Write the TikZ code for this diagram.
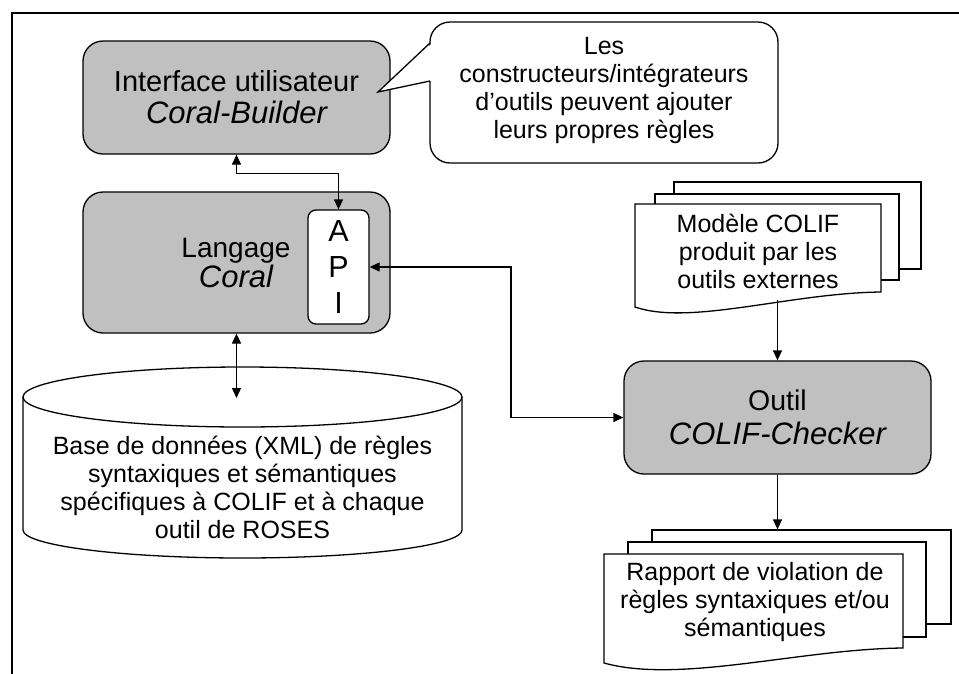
\documentclass[tikz,border=0pt]{standalone}
\usepackage{fontspec}
\setmainfont{Liberation Sans}
\usetikzlibrary{arrows.meta}
\definecolor{boxgrey}{HTML}{C0C0C0}
\tikzset{
  ln/.style={line width=1.3pt, draw=black},
  greybox/.style={ln, fill=boxgrey, rounded corners=20pt, minimum width=307pt, minimum height=113pt, align=center, inner sep=0pt},
  apibox/.style={ln, fill=white, rounded corners=8pt, minimum width=61pt, minimum height=114pt, align=center, inner sep=0pt, font=\fontsize{30.5}{36}\selectfont},
  txt/.style={align=center, inner sep=0pt, font=\fontsize{25}{28}\selectfont},
  sheet/.style={ln, fill=white},
  biarrow/.style={ln, {Triangle[length=10pt,width=9pt]}-{Triangle[length=10pt,width=9pt]}},
  toarrow/.style={ln, -{Triangle[length=10pt,width=9pt]}},
}
\newcommand{\bigital}[1]{{\fontsize{31}{32}\selectfont\itshape #1}}
\begin{document}
\begin{tikzpicture}[x=1pt,y=-1pt]
\useasboundingbox (0,0) rectangle (959,673);
% frame
\draw[line width=1.5pt] (12,674) -- (12,13) -- (960,13);

% grey boxes
\node[greybox, font=\fontsize{29}{32}\selectfont] (iface) at (236.5,97.5) {Interface utilisateur\\\bigital{Coral-Builder}};
\node[greybox, minimum height=141pt] (lang) at (236.5,262.5) {};
\node[txt, font=\fontsize{28}{28}\selectfont] (langtxt) at (236,263) {Langage\\\bigital{Coral}};
\node[apibox] (api) at (338.5,267) {A\\P\\I};
\node[greybox, font=\fontsize{28.5}{34}\selectfont] (checker) at (777.5,417.5) {Outil\\\bigital{COLIF-Checker}};

% callout
\node[ln, fill=white, rounded corners=20pt, minimum width=348pt, minimum height=141pt, inner sep=0pt] (callout) at (604,92.5) {};
\coordinate (tip) at (378,92);
\fill[white] (432,43.5) -- (tip) -- (432,80.5) -- cycle;
\draw[ln, line join=miter] (430,43) -- (tip) -- (430,81);
\node[txt] (callouttxt) at (604,90) {Les\\constructeurs/intégrateurs\\d’outils peuvent ajouter\\leurs propres règles};

% database cylinder
\draw[ln, fill=white] (23,397) -- (23,530) arc[start angle=180, end angle=360, x radius=219.5pt, y radius=28pt] -- (462,397) arc[start angle=0, end angle=180, x radius=219.5pt, y radius=30pt] -- cycle;
\draw[ln] (23,397) arc[start angle=180, end angle=360, x radius=219.5pt, y radius=30pt];
\node[txt] (db) at (242.5,487) {Base de données (XML) de règles\\syntaxiques et sémantiques\\spécifiques à COLIF et à chaque\\outil de ROSES};
\coordinate (dbtop) at (236.5,398);

% top document stack
\node[sheet, minimum width=247pt, minimum height=87pt, inner sep=0pt] (model3) at (797.5,225.5) {};
\node[sheet, minimum width=244pt, minimum height=86pt, inner sep=0pt] (model2) at (777,237) {};
\draw[sheet] (635,204) -- (881,204) -- (881,292) .. controls (790,293) and (690,326) .. (635,307) -- cycle;
\node[txt] (model) at (758,251) {Modèle COLIF\\produit par les\\outils externes};
\coordinate (modelbot) at (777.5,300);

% bottom document stack
\node[sheet, minimum width=299pt, minimum height=94pt, inner sep=0pt] (rep3) at (801.5,577) {};
\node[sheet, minimum width=298pt, minimum height=95pt, inner sep=0pt] (rep2) at (777,589.5) {};
\draw[sheet] (604,554) -- (903,554) -- (903,648) .. controls (800,649) and (680,684) .. (604,663) -- cycle;
\node[txt] (report) at (755,602) {Rapport de violation de\\règles syntaxiques et/ou\\sémantiques};

% connectors
\coordinate (bend) at (511,267);
\draw[biarrow] (iface.south) -- ++(0,19) -| (api.north);
\draw[biarrow] (lang.south) -- (dbtop);
\draw[biarrow] (api.east) -- (bend) |- (checker.west);
\draw[toarrow] (modelbot) -- (checker.north);
\draw[toarrow] (checker.south) -- (checker.south |- rep3.north);
\end{tikzpicture}
\end{document}
